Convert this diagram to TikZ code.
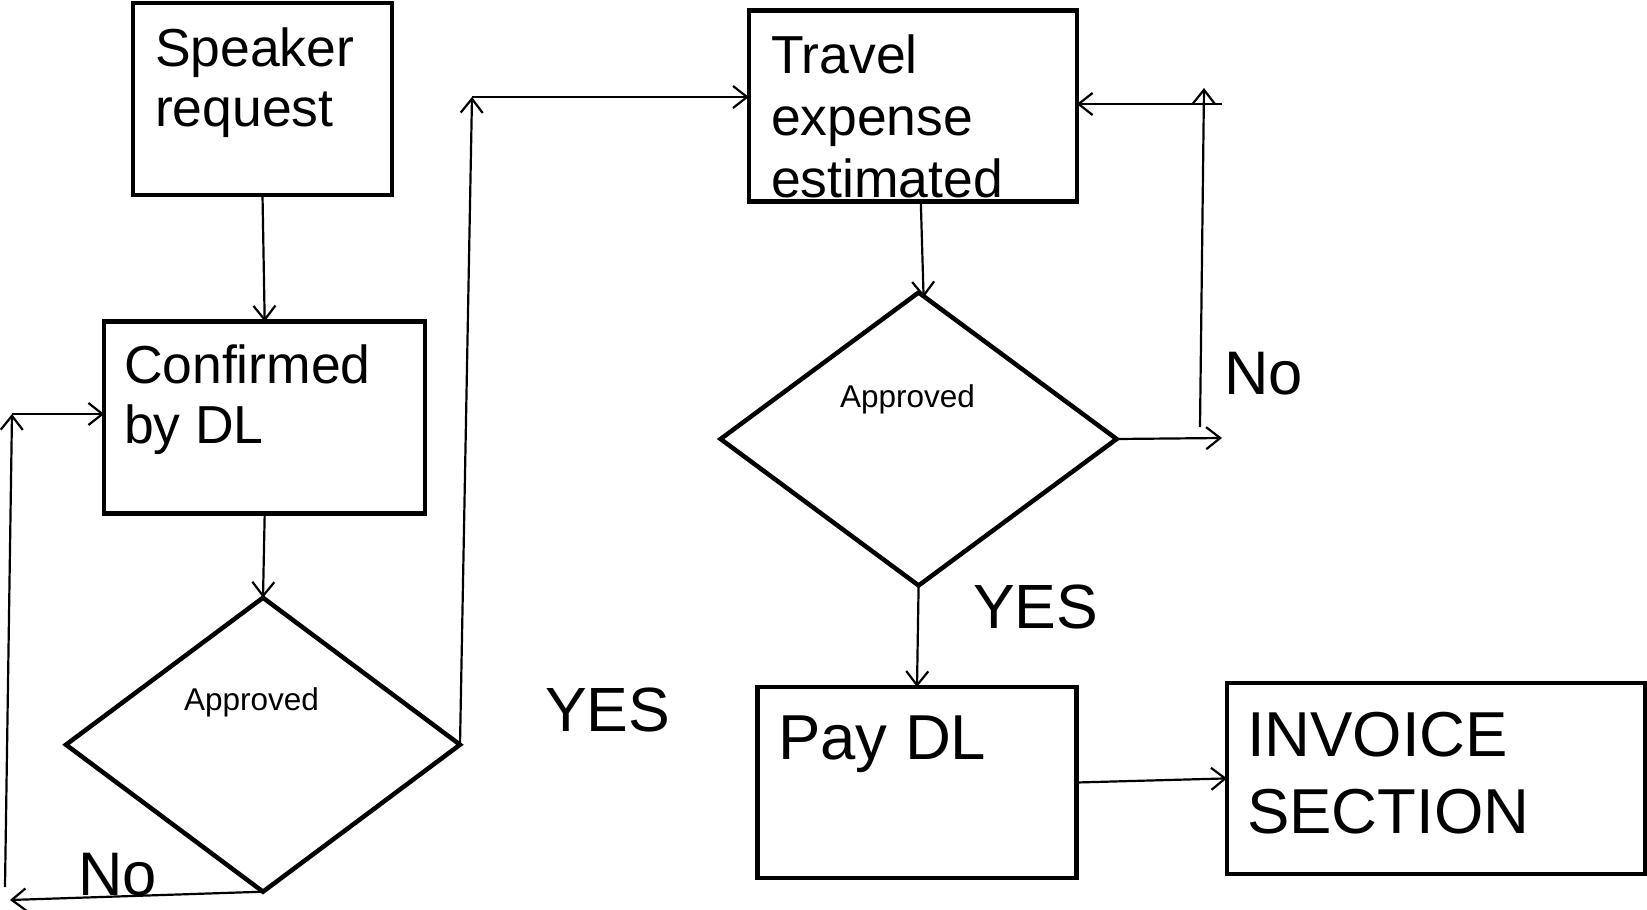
\documentclass[tikz,border=0pt]{standalone}
\usepackage{fontspec}
\setmainfont{Liberation Sans}
\usetikzlibrary{arrows.meta,shapes.geometric,calc}
\begin{document}
\begin{tikzpicture}[x=1pt,y=-1pt,
  box/.style={draw,line width=4.5pt,rectangle,inner sep=0pt,outer sep=0pt},
  dia/.style={draw,line width=4.5pt,diamond,inner sep=0pt,outer sep=0pt},
  txt/.style={inner sep=0pt,outer sep=0pt,anchor=base west},
  big/.style={txt,font=\fontsize{53.5}{60}\selectfont},
  huge/.style={txt,font=\fontsize{63.5}{77}\selectfont},
  lbl/.style={txt,font=\fontsize{62.5}{70}\selectfont},
  small/.style={txt,font=\fontsize{31.5}{34}\selectfont},
  con/.style={line width=2.2pt,-{Straight Barb[length=14pt,width=22pt,line width=2.2pt]}},
  plain/.style={line width=2.2pt}
]
\useasboundingbox (0,0) rectangle (1647,910);

% boxes
\node[box,minimum width=259pt,minimum height=192pt] (sp) at (262.5,99) {};
\node[box,minimum width=321pt,minimum height=192pt] (cf) at (264.7,417.5) {};
\node[box,minimum width=328pt,minimum height=191pt] (tr) at (912.8,106.1) {};
\node[box,minimum width=319pt,minimum height=191pt] (pd) at (917,782.5) {};
\node[box,minimum width=418pt,minimum height=191pt] (inv) at (1436,778.4) {};
\node[dia,minimum width=394pt,minimum height=294pt] (d1) at (263,744.7) {};
\node[dia,minimum width=396pt,minimum height=293pt] (d2) at (918.6,439) {};

% texts
\node[big] (spt) at (155,66) {\begin{tabular}[t]{@{}l@{}}Speaker\\request\end{tabular}};
\node[big] (cft) at (124,383) {\begin{tabular}[t]{@{}l@{}}Confirmed\\by DL\end{tabular}};
\node[big,font=\fontsize{53.5}{62}\selectfont] (trt) at (771,73) {\begin{tabular}[t]{@{}l@{}}Travel\\expense\\estimated\end{tabular}};
\node[huge] (pdt) at (778,759) {Pay DL};
\node[huge] (invt) at (1247,756) {\begin{tabular}[t]{@{}l@{}}INVOICE\\SECTION\end{tabular}};
\node[small] (ap1) at (184,710) {Approved};
\node[small] (ap2) at (840,407) {Approved};
\node[lbl] (yes1) at (545,731) {YES};
\node[lbl] (yes2) at (973,628) {YES};
\node[lbl,font=\fontsize{61.5}{70}\selectfont] (no1) at (1224,394) {No};
\node[lbl,font=\fontsize{61.5}{70}\selectfont] (no2) at (78,895) {No};

% free ends
\coordinate (c1) at (472,97);
\coordinate (c2) at (10,900);
\coordinate (c3) at (5,887);
\coordinate (c4) at (12,414);
\coordinate (c5) at (1222,438);
\coordinate (c6) at (1200,427);
\coordinate (c7) at (1204,88);
\coordinate (c8) at (1222,104);

% connectors
\draw[con] (sp.south) -- (cf.north);
\draw[con] (cf.south) -- (d1.north);
\draw[con] (d1.east) -- (c1);
\draw[con] (c1) -- (c1 -| tr.west);
\draw[con] (d1.south) -- (c2);
\draw[con] (c3) -- (c4);
\draw[con] (c4) -- (c4 -| cf.west);
\draw[con] ($(tr.south)+(8,0)$) -- ($(d2.north)+(5,5)$);
\draw[con] (d2.east) -- (c5);
\draw[con] (c6) -- (c7);
\draw[con] (c8) -- (c8 -| tr.east);
\draw[con] (d2.south) -- (pd.north);
\draw[con] (pd.east) -- (inv.west);
\end{tikzpicture}
\end{document}
